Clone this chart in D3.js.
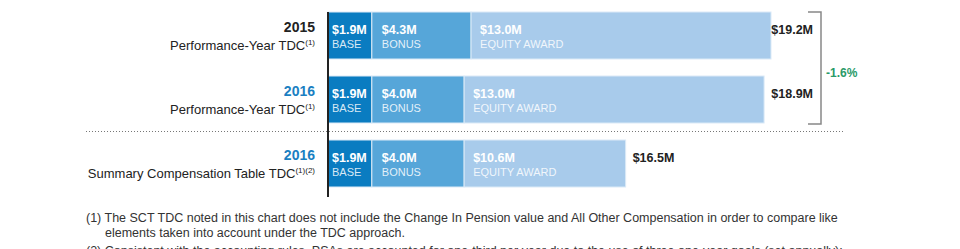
<!DOCTYPE html>
<html lang="en">
<head>
    <meta charset="UTF-8">
    <title>TDC comparison</title>
    <script src="https://d3js.org/d3.v7.min.js"></script>
    <style>
        body{
            margin: 0;
            overflow: hidden;
            background-color: #fff;
        }
        text{
            font-family: "Liberation Sans", Arial, sans-serif;
        }
        .seg-value{
            fill: #fff;
            font-weight: 700;
            font-size: 12.5px;
        }
        .seg-name{
            fill: #fff;
            fill-opacity: 0.85;
            font-size: 11px;
        }
        .total{
            fill: #222;
            font-weight: 700;
            font-size: 12.5px;
        }
        .note{
            fill: #333;
            font-size: 12.5px;
        }
    </style>
</head>
<body>

    <div id="svg"></div>

    <script>
// rows of the chart
var years = ["2015", "2016", "2016"];
var rowNames = ["Performance-Year TDC", "Performance-Year TDC", "Summary Compensation Table TDC"];
var rowNotes = ["(1)", "(1)", "(1)(2)"];
var yearColors = ["#222", "#1a7fc2", "#1a7fc2"];

// segments ($M) - lengths as drawn in the picture
var segNames = ["BASE", "BONUS", "EQUITY AWARD"];
var base = [1.9, 1.9, 1.9];
var bonus = [4.3, 4.0, 4.0];
var equity = [13.0, 13.0, 7.0];

// labels as printed
var baseLabels = ["$1.9M", "$1.9M", "$1.9M"];
var bonusLabels = ["$4.3M", "$4.0M", "$4.0M"];
var equityLabels = ["$13.0M", "$13.0M", "$10.6M"];
var totalLabels = ["$19.2M", "$18.9M", "$16.5M"];
var changeLabel = "-1.6%";

var footnotes = [
    "(1) The SCT TDC noted in this chart does not include the Change In Pension value and All Other Compensation in order to compare like",
    "elements taken into account under the TDC approach.",
    "(2) Consistent with the accounting rules, PSAs are accounted for one-third per year due to the use of three one-year goals (set annually);"
];

var width = 960,
    height = 249;

var svg = d3.select("#svg")
  .append("svg")
    .attr("width", width)
    .attr("height", height);

var colors = ["#0a7cc1", "#56a6d9", "#a8cbeb"];

var x = d3.scaleLinear()
    .domain([0, 19.2])
    .range([328, 771]);

var y = d3.scaleBand()
    .domain([0, 1, 2])
    .range([12, 187])
    .paddingInner(17 / 64)
    .paddingOuter(0);

var rows = years.map(function(yr, i) {
    var vals = [base[i], bonus[i], equity[i]];
    var labels = [baseLabels[i], bonusLabels[i], equityLabels[i]];
    var start = 0;
    var segs = vals.map(function(v, j) {
        var s = {row: i, idx: j, x0: start, x1: start + v, label: labels[j], name: segNames[j]};
        start += v;
        return s;
    });
    return {i: i, year: yr, segs: segs, end: start};
});

// bars
var rowG = svg.selectAll(".row")
    .data(rows)
    .enter()
    .append("g")
        .attr("class", "row")
        .attr("transform", function(d) { return "translate(0," + y(d.i) + ")"; });

var seg = rowG.selectAll(".seg")
    .data(function(d) { return d.segs; })
    .enter()
    .append("g")
        .attr("class", "seg");

seg.append("rect")
    .attr("x", function(d) { return x(d.x0); })
    .attr("width", function(d) { return x(d.x1) - x(d.x0); })
    .attr("height", y.bandwidth())
    .attr("fill", function(d) { return colors[d.idx]; })
    .attr("stroke", "#dbeaf7")
    .attr("stroke-width", 1);

var pad = [4, 10, 9];
seg.append("text")
    .attr("class", "seg-value")
    .attr("x", function(d) { return x(d.x0) + pad[d.idx]; })
    .attr("y", 22)
    .text(function(d) { return d.label; });

seg.append("text")
    .attr("class", "seg-name")
    .attr("x", function(d) { return x(d.x0) + pad[d.idx]; })
    .attr("y", 36)
    .text(function(d) { return d.name; });

// totals
var bracketX = 821;
rowG.append("text")
    .attr("class", "total")
    .attr("y", 21.5)
    .attr("x", function(d) { return d.i < 2 ? bracketX - 8 : x(d.end) + 7; })
    .attr("text-anchor", function(d) { return d.i < 2 ? "end" : "start"; })
    .text(function(d) { return totalLabels[d.i]; });

// row labels
rowG.append("text")
    .attr("x", 315)
    .attr("y", 19.5)
    .attr("text-anchor", "end")
    .style("font-weight", 700)
    .style("font-size", "14px")
    .attr("fill", function(d) { return yearColors[d.i]; })
    .text(function(d) { return d.year; });

var desc = rowG.append("text")
    .attr("x", 315)
    .attr("y", 37.5)
    .attr("text-anchor", "end")
    .attr("fill", "#222")
    .style("font-size", "13px");
desc.append("tspan")
    .text(function(d) { return rowNames[d.i]; });
desc.append("tspan")
    .attr("dy", -5)
    .style("font-size", "8px")
    .text(function(d) { return rowNotes[d.i]; });

// axis line
svg.append("line")
    .attr("x1", x(0)).attr("x2", x(0))
    .attr("y1", y(0)).attr("y2", 197)
    .attr("stroke", "#222")
    .attr("stroke-width", 2);

// dotted separator
svg.append("line")
    .attr("x1", 86).attr("x2", 845)
    .attr("y1", 131.5).attr("y2", 131.5)
    .attr("stroke", "#777")
    .attr("stroke-dasharray", "1,2");

// bracket
var bTop = y(0), bBot = y(1) + y.bandwidth() + 1;
svg.append("path")
    .attr("d", "M" + (bracketX - 13) + "," + bTop + "H" + bracketX + "V" + bBot + "H" + (bracketX - 13))
    .attr("fill", "none")
    .attr("stroke", "#888")
    .attr("stroke-width", 1.5);

svg.append("text")
    .attr("x", bracketX + 5)
    .attr("y", 77)
    .attr("fill", "#2a9a68")
    .style("font-size", "12px")
    .style("font-weight", 700)
    .text(changeLabel);

// footnotes
var noteX = [86, 105, 86];
var noteY = [222, 237, 255];
svg.selectAll(".note")
    .data(footnotes)
    .enter()
    .append("text")
        .attr("class", "note")
        .attr("x", function(d, i) { return noteX[i]; })
        .attr("y", function(d, i) { return noteY[i]; })
        .text(function(d) { return d; });
    </script>
</body>
</html>
